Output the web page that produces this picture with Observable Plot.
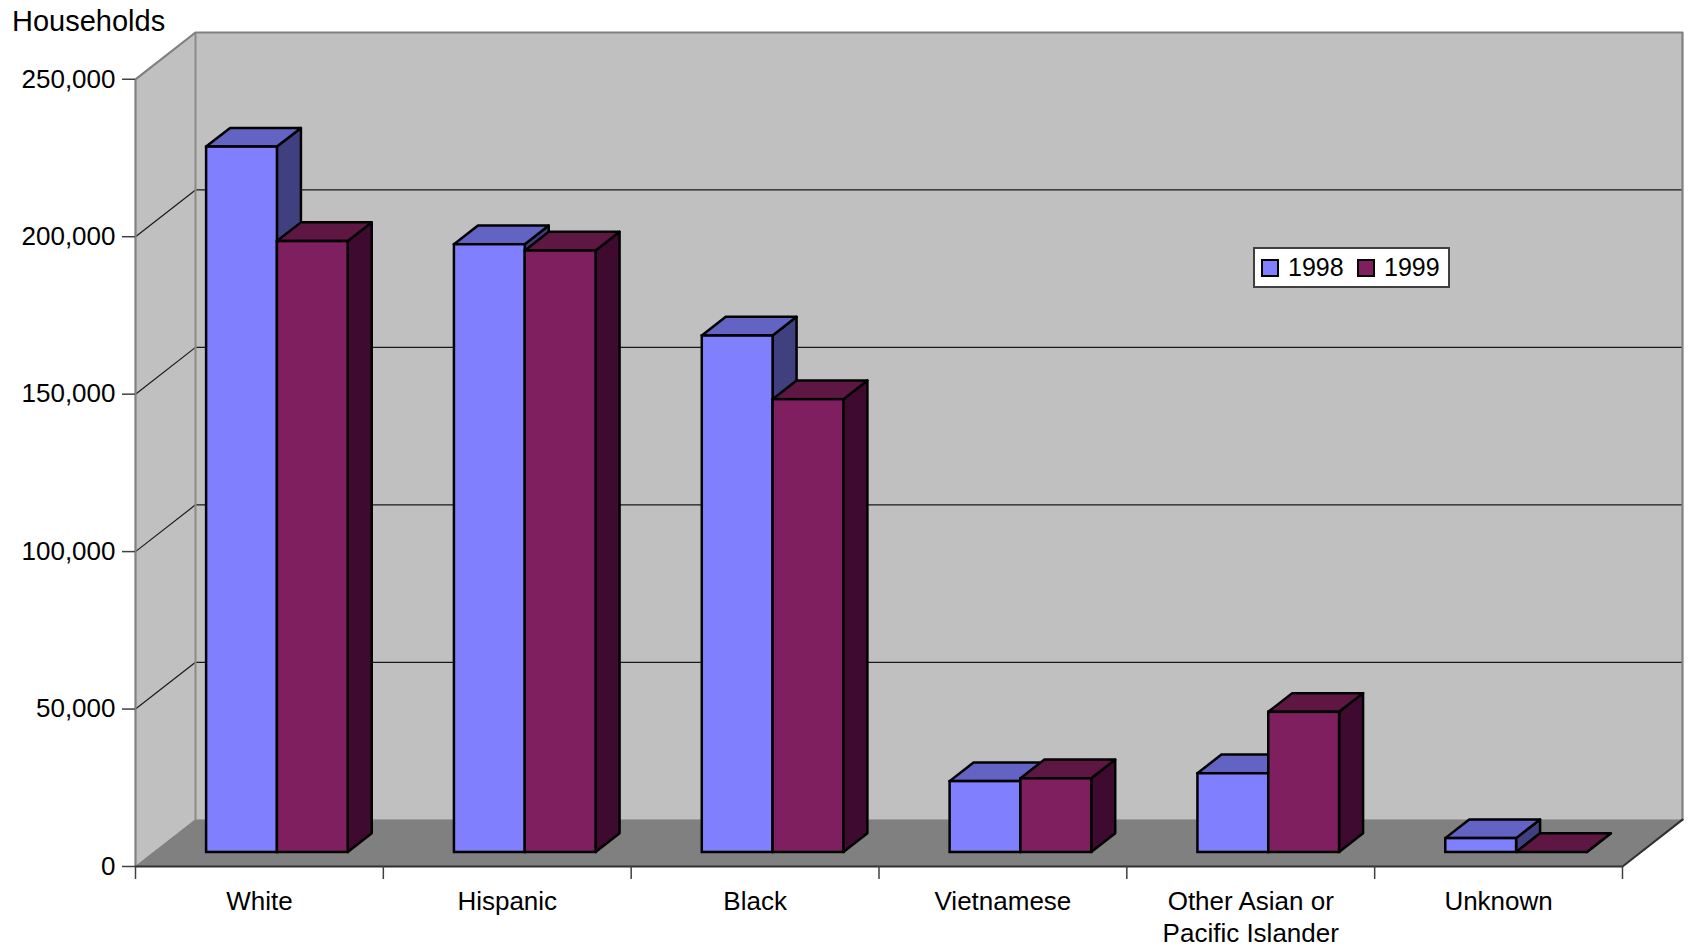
<!DOCTYPE html>
<html>
<head>
<meta charset="utf-8">
<script src="https://cdn.jsdelivr.net/npm/d3@7"></script>
<script src="https://cdn.jsdelivr.net/npm/@observablehq/plot@0.6"></script>
<style>
html, body { margin: 0; padding: 0; background: #fff; }
#wrap { position: relative; width: 1688px; height: 951px; font-family: "Liberation Sans", Arial, sans-serif; color: #000; }
#wrap svg { position: absolute; left: 0; top: 0; }
.lbl { position: absolute; line-height: 1; white-space: nowrap; }
#legend { position: absolute; left: 1253px; top: 247px; width: 197px; height: 41px; box-sizing: border-box; border: 2px solid #404040; background: #fff; }
.sw { position: absolute; width: 18px; height: 18px; box-sizing: border-box; border: 2px solid #000; }
</style>
</head>
<body>
<div id="wrap"></div>
<script>
// ---- data ----
const categories = ["White", "Hispanic", "Black", "Vietnamese", "Other Asian or\nPacific Islander", "Unknown"];
const series = ["1998", "1999"];
const values1998 = [224000, 193000, 164000, 22500, 25000, 4400];
const values1999 = [194000, 191000, 143800, 23400, 44500, 0];
const yTicks = [0, 50000, 100000, 150000, 200000, 250000];
const yAxisTitle = "Households";

// ---- styling / geometry ----
const seriesValues = [values1998, values1999];
const frontColors = ["#8080FF", "#7F1F5F"];
const topColors = ["#6363C3", "#5E1643"];
const sideColors = ["#404080", "#3F0A2F"];
const n = categories.length;
const yMax = yTicks[yTicks.length - 1];
const DX = 0.2421;   // depth shift in category units
const DY = 14850;    // depth shift in value units
const D0 = 0.3, D1 = 0.7; // bar depth span
const barW = 1 / 3.5;
const gap = 0.75 * barW;

const bars = series.flatMap((s, si) => categories.map((c, i) => {
  const a = i + gap + si * barW;
  return {s, si, c, i, v: seriesValues[si][i], a, b: a + barW, key: s + "-" + i};
}));
const fronts = bars.map(d => ({...d, fx1: d.a + D0 * DX, fx2: d.b + D0 * DX, fy1: D0 * DY, fy2: d.v + D0 * DY}));
const tops = bars.flatMap(d => [D0, D1].map(t => ({...d, y: d.v + t * DY, x1: d.a + t * DX, x2: d.b + t * DX})));
const sides = bars.flatMap(d => [D0, D1].map(t => ({...d, x: d.b + t * DX, y1: t * DY, y2: d.v + t * DY})));

const gridVals = yTicks.filter(v => v > 0 && v < yMax);
const backWall = [{x1: DX, x2: n + DX, y1: DY, y2: yMax + DY}];
const sideWall = [0, 1].map(t => ({x: t * DX, y1: t * DY, y2: yMax + t * DY}));
const floor = [0, 1].map(t => ({y: t * DY, x1: t * DX, x2: n + t * DX}));
const wallBorder = [
  {x: 0, y: 0}, {x: 0, y: yMax}, {x: DX, y: yMax + DY}, {x: n + DX, y: yMax + DY}, {x: n + DX, y: DY}
];
const floorEdge = [{x: 0, y: 0}, {x: n, y: 0}, {x: n + DX, y: DY}];

const barMarks = series.flatMap((s, si) => [
  Plot.areaY(sides.filter(d => d.si === si), {x: "x", y1: "y1", y2: "y2", z: "key", fill: sideColors[si], stroke: "#000", strokeWidth: 2.5}),
  Plot.areaX(tops.filter(d => d.si === si), {y: "y", x1: "x1", x2: "x2", z: "key", fill: topColors[si], stroke: "#000", strokeWidth: 2.5}),
  Plot.rect(fronts.filter(d => d.si === si), {x1: "fx1", x2: "fx2", y1: "fy1", y2: "fy2", fill: frontColors[si], stroke: "#000", strokeWidth: 2.5})
]);

const chart = Plot.plot({
  width: 1688,
  height: 951,
  marginLeft: 135,
  marginRight: 6,
  marginTop: 32,
  marginBottom: 85,
  style: {fontFamily: "'Liberation Sans', Arial, sans-serif", fontSize: "26px", background: "transparent", color: "#000", overflow: "visible"},
  x: {domain: [0, n + DX]},
  y: {domain: [0, yMax + DY]},
  marks: [
    Plot.rect(backWall, {x1: "x1", x2: "x2", y1: "y1", y2: "y2", fill: "#C0C0C0"}),
    Plot.areaY(sideWall, {x: "x", y1: "y1", y2: "y2", fill: "#C0C0C0"}),
    Plot.areaX(floor, {y: "y", x1: "x1", x2: "x2", fill: "#808080"}),
    Plot.ruleY(gridVals, {y: v => v + DY, x1: () => DX, x2: () => n + DX, stroke: "#1a1a1a", strokeWidth: 1.2}),
    Plot.link(gridVals, {x1: () => 0, y1: v => v, x2: () => DX, y2: v => v + DY, stroke: "#1a1a1a", strokeWidth: 1.2}),
    Plot.link([0], {x1: () => DX, y1: () => DY, x2: () => DX, y2: () => yMax + DY, stroke: "#8a8a8a", strokeWidth: 2}),
    Plot.line(wallBorder, {x: "x", y: "y", stroke: "#808080", strokeWidth: 2.2}),
    Plot.line(floorEdge, {x: "x", y: "y", stroke: "#303030", strokeWidth: 2.2}),
    ...barMarks,
    Plot.axisY(yTicks, {tickSize: 13, tickPadding: 7, tickFormat: d3.format(","), fontSize: 26, stroke: "#404040", strokeWidth: 1.5, label: null}),
    Plot.axisX(d3.range(n + 1), {tickSize: 13, tickFormat: () => "", stroke: "#404040", strokeWidth: 1.5, label: null}),
    Plot.text(categories, {x: (d, i) => i + 0.5, y: () => 0, text: d => d, dy: 20.5, lineAnchor: "top", lineHeight: 1.24, fontSize: 26, fill: "#000"})
  ]
});

const wrap = document.getElementById("wrap");
wrap.appendChild(chart);

const title = document.createElement("div");
title.className = "lbl";
title.style.left = "12px";
title.style.top = "7px";
title.style.fontSize = "29px";
title.textContent = yAxisTitle;
wrap.appendChild(title);

const legend = document.createElement("div");
legend.id = "legend";
wrap.appendChild(legend);
const legendPos = [{sw: 6, tx: 33}, {sw: 102, tx: 129}];
series.forEach((s, si) => {
  const sw = document.createElement("div");
  sw.className = "sw";
  sw.style.left = legendPos[si].sw + "px";
  sw.style.top = "10px";
  sw.style.background = frontColors[si];
  legend.appendChild(sw);
  const t = document.createElement("div");
  t.className = "lbl";
  t.style.left = legendPos[si].tx + "px";
  t.style.top = "6px";
  t.style.fontSize = "25px";
  t.textContent = s;
  legend.appendChild(t);
});
</script>
</body>
</html>
